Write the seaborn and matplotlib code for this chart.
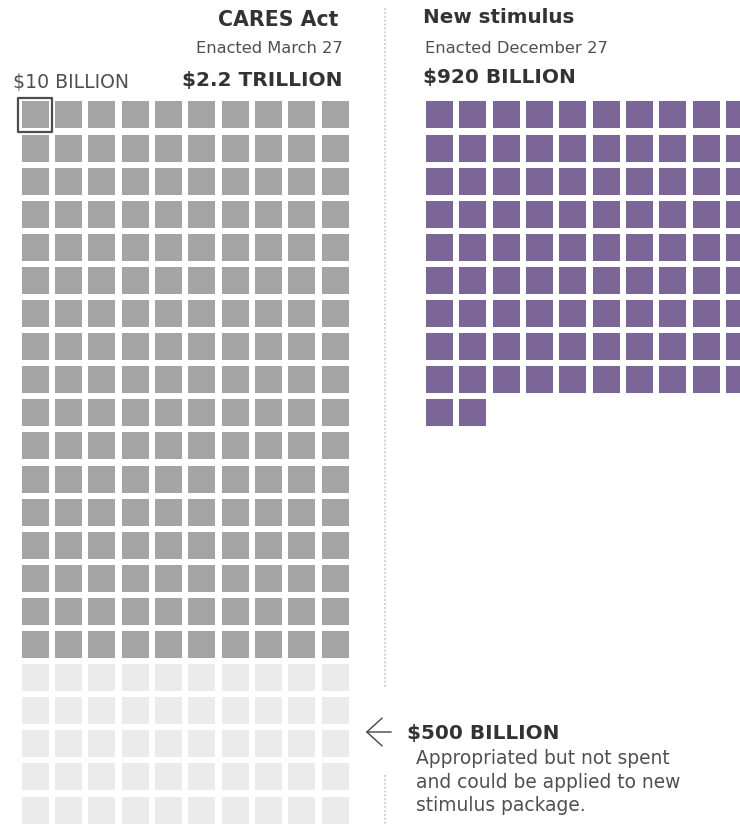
import numpy as np
import pandas as pd
import matplotlib
matplotlib.use("Agg")
import matplotlib.pyplot as plt
import seaborn as sns
from matplotlib.lines import Line2D
from matplotlib.patches import FancyArrowPatch

# Stimulus packages in billions of dollars, drawn as $10 billion blocks
unit_billion = 10
cares_total = 2200
cares_unspent = 500
new_total = 920
n_cols = 10

packages = ["CARES Act", "New stimulus"]
enacted = ["Enacted March 27", "Enacted December 27"]
amount_labels = ["$2.2 TRILLION", "$920 BILLION"]
unit_label = "$10 BILLION"
unspent_label = "$500 BILLION"
unspent_note = "Appropriated but not spent\nand could be applied to new\nstimulus package."

GREY = "#a4a4a4"
LIGHT = "#ebebeb"
PURPLE = "#7c6597"
DARK = "#333333"
MID = "#4f4f4f"


def blocks(total, unspent=0):
    n = total // unit_billion
    n_unspent = unspent // unit_billion
    idx = np.arange(n)
    status = np.where(idx >= n - n_unspent, "unspent", "spent")
    return pd.DataFrame({"col": idx % n_cols, "row": idx // n_cols, "status": status})


cares = blocks(cares_total, cares_unspent)
new = blocks(new_total)
n_rows = int(cares["row"].max()) + 1

sns.set_theme(style="white")
plt.rcParams["font.family"] = ["DejaVu Sans"]

W, H = 740, 824
fig = plt.figure(figsize=(W / 100, H / 100), dpi=100)
fig.patch.set_facecolor("white")

pitch_x, pitch_y = 33.33, 33.1
side_pt = 27 * 0.72


def grid_axes(center_x0, center_y0):
    left = center_x0 - pitch_x / 2
    top = center_y0 - pitch_y / 2
    w = pitch_x * n_cols
    h = pitch_y * n_rows
    ax = fig.add_axes([left / W, 1 - (top + h) / H, w / W, h / H])
    ax.set_xlim(-0.5, n_cols - 0.5)
    ax.set_ylim(n_rows - 0.5, -0.5)
    ax.set_axis_off()
    return ax


ax_l = grid_axes(35.3, 115)
ax_r = grid_axes(439.5, 115)

sns.scatterplot(data=cares, x="col", y="row", hue="status",
                palette={"spent": GREY, "unspent": LIGHT}, marker="s",
                s=side_pt ** 2, linewidth=0, legend=False, ax=ax_l)
sns.scatterplot(data=new, x="col", y="row", hue="status",
                palette={"spent": PURPLE}, marker="s",
                s=side_pt ** 2, linewidth=0, legend=False, ax=ax_r)

# Outline the first block as the key for one unit
first = cares.iloc[[0]]
ax_l.scatter(first["col"], first["row"], marker="s", s=(34 * 0.72) ** 2,
             facecolors="none", edgecolors="#4d4d4d", linewidths=1.6,
             clip_on=False, zorder=3)

# Dotted divider between the two packages
for y0, y1 in [(8, 688), (775, 824)]:
    fig.add_artist(Line2D([385 / W, 385 / W], [1 - y0 / H, 1 - y1 / H],
                          transform=fig.transFigure, color="#d2d2d2",
                          lw=1.4, ls=(0, (1, 1))))


def t(x, y, s, **kw):
    kw.setdefault("va", "baseline")
    return fig.text(x / W, 1 - y / H, s, **kw)


t(338, 26, packages[0], ha="right", fontsize=14.8, fontweight="bold", color=DARK)
t(343, 53, enacted[0], ha="right", fontsize=11.7, color=MID)
t(343, 86, amount_labels[0], ha="right", fontsize=14.5, fontweight="bold", color=DARK)
t(13, 88, unit_label, ha="left", fontsize=13.6, color=MID)

t(423, 23, packages[1], ha="left", fontsize=14.3, fontweight="bold", color=DARK)
t(425, 53, enacted[1], ha="left", fontsize=11.8, color=MID)
t(423, 83, amount_labels[1], ha="left", fontsize=14.5, fontweight="bold", color=DARK)

t(407, 739, unspent_label, ha="left", fontsize=14.4, fontweight="bold", color=DARK)
for i, line in enumerate(unspent_note.split("\n")):
    t(416, 764 + i * 23.5, line, ha="left", fontsize=13.4, color=MID)

fig.add_artist(FancyArrowPatch((394 / W, 1 - 732 / H), (363 / W, 1 - 732 / H),
                               transform=fig.transFigure,
                               arrowstyle="->,head_length=1.1,head_width=1.0",
                               mutation_scale=10, color="#444444", lw=1.0))

fig.savefig("out.png", dpi=100, facecolor="white")
